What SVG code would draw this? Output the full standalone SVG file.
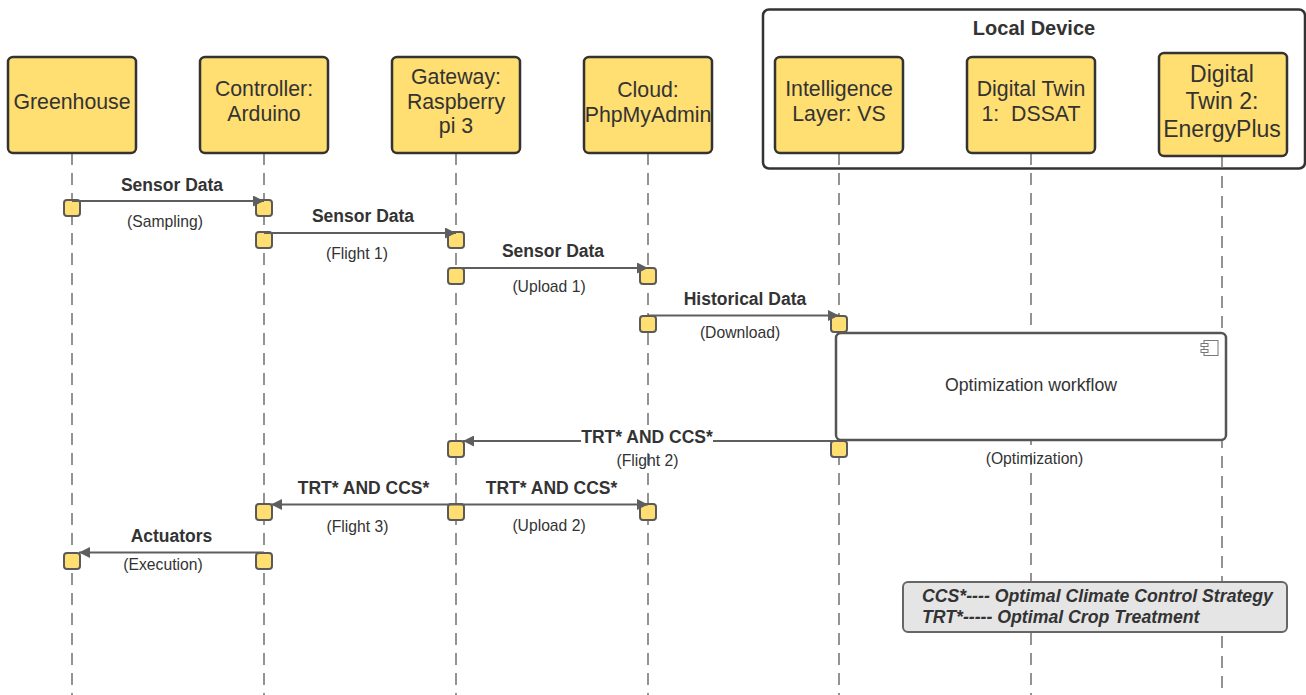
<svg xmlns="http://www.w3.org/2000/svg" width="1306" height="695" viewBox="0 0 1306 695">
<style>
.node{fill:#FFDE72;stroke:#333;stroke-width:2.5}
.nt{font-family:"Liberation Sans",Arial,sans-serif;font-size:21.3px;fill:#333;text-anchor:middle}
.life{stroke:#707070;stroke-width:1.5;stroke-dasharray:12 8;fill:none}
.act{fill:#FFDE72;stroke:#5a5a5a;stroke-width:2}
.msg{stroke:#5e5e5e;stroke-width:1.8;fill:none;marker-end:url(#ah)}
.lb{font-family:"Liberation Sans",Arial,sans-serif;font-size:17.5px;font-weight:bold;fill:#333;text-anchor:middle}
.sub{font-family:"Liberation Sans",Arial,sans-serif;font-size:15.7px;fill:#333;text-anchor:middle}
.leg{font-family:"Liberation Sans",Arial,sans-serif;font-size:17.7px;font-weight:bold;font-style:italic;fill:#333}
</style>
<defs>
<marker id="ah" markerUnits="userSpaceOnUse" markerWidth="12" markerHeight="11" refX="11" refY="5.5" orient="auto">
<path d="M0,0 L11,5.5 L0,11 z" fill="#5e5e5e"/>
</marker>
</defs>
<rect width="1306" height="695" fill="#fff"/>

<g id="local-device">
<rect x="763" y="9.5" width="542" height="159" rx="6" fill="#fff" stroke="#333" stroke-width="2.5"/>
<text x="1034" y="35" font-family="Liberation Sans,Arial,sans-serif" font-size="20" font-weight="bold" fill="#333" text-anchor="middle">Local Device</text>
</g>

<g id="lifelines">
<line class="life" x1="72" y1="153" x2="72" y2="695"/>
<line class="life" x1="264" y1="153" x2="264" y2="695"/>
<line class="life" x1="456" y1="153" x2="456" y2="695"/>
<line class="life" x1="648" y1="153" x2="648" y2="695"/>
<line class="life" x1="839" y1="153" x2="839" y2="695"/>
<line class="life" x1="1031" y1="153" x2="1031" y2="695"/>
<line class="life" x1="1222" y1="156" x2="1222" y2="695"/>
</g>

<g id="greenhouse"><rect class="node" x="8" y="57" width="128" height="96" rx="5"/><text class="nt" x="72" y="109">Greenhouse</text></g>
<g id="controller"><rect class="node" x="200" y="57" width="128" height="96" rx="5"/><text class="nt" x="264" y="96">Controller:</text><text class="nt" x="264" y="121">Arduino</text></g>
<g id="gateway"><rect class="node" x="392" y="57" width="128" height="96" rx="5"/><text class="nt" x="456" y="84">Gateway:</text><text class="nt" x="456" y="108.5">Raspberry</text><text class="nt" x="456" y="133">pi 3</text></g>
<g id="cloud"><rect class="node" x="584" y="57" width="128" height="96" rx="5"/><text class="nt" x="648" y="97">Cloud:</text><text class="nt" x="648" y="122">PhpMyAdmin</text></g>
<g id="intelligence"><rect class="node" x="775" y="57" width="128" height="96" rx="5"/><text class="nt" x="839" y="96">Intelligence</text><text class="nt" x="839" y="121">Layer: VS</text></g>
<g id="dt1"><rect class="node" x="967" y="57" width="128" height="96" rx="5"/><text class="nt" x="1031" y="96">Digital Twin</text><text class="nt" x="1031" y="121" style="white-space:pre">1:  DSSAT</text></g>
<g id="dt2"><rect class="node" x="1159" y="53" width="128" height="103" rx="5"/><text class="nt" x="1222" y="82" style="font-size:23px">Digital</text><text class="nt" x="1222" y="109" style="font-size:23px">Twin 2:</text><text class="nt" x="1222" y="136.5" style="font-size:23px">EnergyPlus</text></g>

<g id="optimization">
<rect x="836" y="333" width="390" height="107" rx="5" fill="#fff" stroke="#555" stroke-width="2.5"/>
<rect x="1204" y="340.5" width="14" height="15" fill="none" stroke="#777" stroke-width="1"/>
<rect x="1201" y="343.5" width="7" height="3" fill="#fff" stroke="#777" stroke-width="1"/>
<rect x="1201" y="349.5" width="7" height="3" fill="#fff" stroke="#777" stroke-width="1"/>
<text x="1031" y="390.5" font-family="Liberation Sans,Arial,sans-serif" font-size="17.7" fill="#333" text-anchor="middle">Optimization workflow</text>
</g>

<g id="activations">
<rect class="act" x="64" y="200" width="16" height="16" rx="3"/>
<rect class="act" x="256" y="200" width="16" height="16" rx="3"/>
<rect class="act" x="256" y="232" width="16" height="16" rx="3"/>
<rect class="act" x="448" y="232" width="16" height="16" rx="3"/>
<rect class="act" x="448" y="268" width="16" height="16" rx="3"/>
<rect class="act" x="640" y="268" width="16" height="16" rx="3"/>
<rect class="act" x="640" y="316" width="16" height="16" rx="3"/>
<rect class="act" x="831" y="316" width="16" height="16" rx="3"/>
<rect class="act" x="448" y="441" width="16" height="16" rx="3"/>
<rect class="act" x="831" y="441" width="16" height="16" rx="3"/>
<rect class="act" x="256" y="504" width="16" height="16" rx="3"/>
<rect class="act" x="448" y="504" width="16" height="16" rx="3"/>
<rect class="act" x="640" y="504" width="16" height="16" rx="3"/>
<rect class="act" x="64" y="553" width="16" height="16" rx="3"/>
<rect class="act" x="256" y="553" width="16" height="16" rx="3"/>
</g>

<g id="connectors">
<path class="msg" d="M72,201 H264"/>
<path class="msg" d="M264,233 H456"/>
<path class="msg" d="M456,268 H648"/>
<path class="msg" d="M648,315.5 H839"/>
<path class="msg" d="M839,441 H463"/>
<path class="msg" d="M456,504.5 H271"/>
<path class="msg" d="M456,504.5 H648"/>
<path class="msg" d="M264,552.5 H79"/>
</g>

<g id="labels">
<text class="lb" x="172" y="190.5">Sensor Data</text>
<text class="sub" x="165" y="227">(Sampling)</text>
<text class="lb" x="363" y="221.5">Sensor Data</text>
<text class="sub" x="357" y="259">(Flight 1)</text>
<text class="lb" x="553" y="256.5">Sensor Data</text>
<text class="sub" x="549" y="291.5">(Upload 1)</text>
<text class="lb" x="745" y="305">Historical Data</text>
<text class="sub" x="740" y="338">(Download)</text>
<text class="sub" x="1034.5" y="464">(Optimization)</text>
<rect x="581" y="429" width="132" height="17" fill="#fff"/>
<text class="lb" x="647" y="443">TRT* AND CCS*</text>
<text class="sub" x="647.5" y="465.5">(Flight 2)</text>
<text class="lb" x="363.5" y="494">TRT* AND CCS*</text>
<text class="sub" x="357.5" y="531.5">(Flight 3)</text>
<text class="lb" x="551.5" y="493.5">TRT* AND CCS*</text>
<text class="sub" x="549" y="531">(Upload 2)</text>
<text class="lb" x="171.5" y="541.5">Actuators</text>
<text class="sub" x="163" y="570">(Execution)</text>
</g>

<g id="legend">
<rect x="903" y="582" width="384" height="50" rx="5" fill="#e5e5e5" stroke="#666" stroke-width="2"/>
<text class="leg" x="922" y="601.5">CCS*---- Optimal Climate Control Strategy</text>
<text class="leg" x="922" y="622.5">TRT*----- Optimal Crop Treatment</text>
</g>
</svg>
